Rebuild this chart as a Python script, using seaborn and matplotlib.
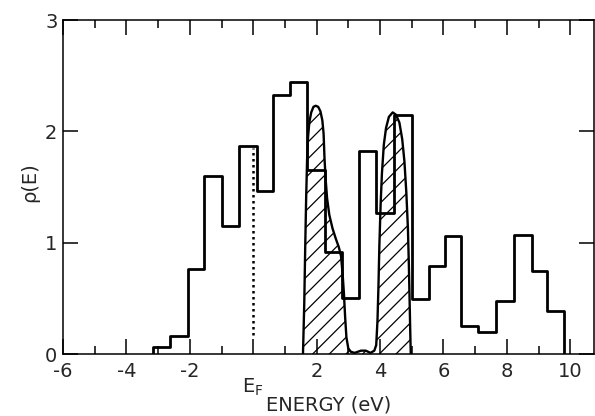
import matplotlib
matplotlib.use("Agg")
import matplotlib.pyplot as plt
import seaborn as sns

# ---- data ----
bin_edges = [-3.15, -2.61, -2.07, -1.54, -0.98, -0.45, 0.12, 0.64, 1.16, 1.69,
             2.26, 2.79, 3.35, 3.87, 4.45, 5.00, 5.53, 6.06, 6.56, 7.09,
             7.67, 8.22, 8.78, 9.28, 9.81]
dos_heights = [0.06, 0.16, 0.76, 1.60, 1.15, 1.87, 1.46, 2.33, 2.44, 1.65,
               0.92, 0.50, 1.82, 1.27, 2.15, 0.49, 0.79, 1.06, 0.25, 0.20,
               0.48, 1.07, 0.75, 0.39]

peak_energy = [1.57, 1.61, 1.64, 1.67, 1.70, 1.73, 1.77, 1.83, 1.90, 1.97,
               2.05, 2.12, 2.18, 2.22, 2.25, 2.29, 2.33, 2.40, 2.50, 2.60,
               2.70, 2.77, 2.82, 2.86, 2.90, 2.94, 3.00, 3.08, 3.20, 3.40,
               3.55, 3.70, 3.82, 3.88, 3.92, 3.95, 3.98, 4.02, 4.06, 4.12,
               4.19, 4.28, 4.40, 4.50, 4.61, 4.70, 4.77, 4.83, 4.88, 4.91,
               4.93, 4.95, 4.97]
peak_rho = [0.00, 0.45, 0.95, 1.40, 1.75, 1.95, 2.08, 2.17, 2.22, 2.23,
            2.22, 2.18, 2.10, 1.98, 1.75, 1.55, 1.40, 1.25, 1.13, 1.04,
            0.96, 0.88, 0.72, 0.55, 0.33, 0.15, 0.05, 0.02, 0.01, 0.03,
            0.03, 0.01, 0.03, 0.08, 0.30, 0.60, 0.98, 1.35, 1.62, 1.88,
            2.03, 2.13, 2.17, 2.15, 2.08, 1.93, 1.73, 1.45, 1.13, 0.80,
            0.53, 0.25, 0.00]

fermi_energy = 0.0
fermi_rho = [0.17, 1.85]

x_major_ticks = [-6, -4, -2, 0, 2, 4, 6, 8, 10]
x_tick_labels = ["-6", "-4", "-2", "", "2", "4", "6", "8", "10"]
x_minor_ticks = [-5, -3, -1, 1, 3, 5, 7, 9]
y_ticks = [0, 1, 2, 3]
y_tick_labels = ["0", "1", "2", "3"]

# ---- figure ----
sns.set_style("ticks")
plt.rcParams["font.family"] = ["DejaVu Sans"]
plt.rcParams["hatch.linewidth"] = 0.9

fig = plt.figure(figsize=(5.95, 4.16), dpi=100)
ax = fig.add_axes([63 / 595, 1 - 354 / 416, (594 - 63) / 595, (354 - 20) / 416])

# histogram outline (steps)
steps_x = [bin_edges[0]] + bin_edges
steps_y = [0.0] + dos_heights + [0.0]
sns.lineplot(x=steps_x, y=steps_y, sort=False, estimator=None,
             drawstyle="steps-post", color="black", linewidth=2.0, ax=ax)

# hatched peaks
ax.fill_between(peak_energy, 0, peak_rho, facecolor="none",
                edgecolor="black", hatch="//", linewidth=0)
sns.lineplot(x=peak_energy, y=peak_rho, sort=False, estimator=None,
             color="black", linewidth=1.7, ax=ax)

# Fermi level dotted line
ax.plot([fermi_energy, fermi_energy], fermi_rho, color="black",
        linewidth=1.8, linestyle=(0, (1, 1.4)))

ax.set_xlim(-6, 10.75)
ax.set_ylim(0, 3)
ax.set_xticks(x_major_ticks)
ax.set_xticklabels(x_tick_labels)
ax.set_xticks(x_minor_ticks, minor=True)
ax.set_yticks(y_ticks)
ax.set_yticklabels(y_tick_labels)

ax.tick_params(which="both", direction="in", top=True, right=True,
               width=1.1, labelsize=14, color="black")
ax.tick_params(which="major", length=11)
ax.tick_params(which="minor", length=6)
ax.tick_params(axis="x", pad=6)
ax.tick_params(axis="y", pad=4)
for s in ax.spines.values():
    s.set_linewidth(1.1)
    s.set_color("black")

ax.annotate(r"E$_\mathregular{F}$", xy=(fermi_energy, 0), xycoords="data",
            xytext=(0, -16), textcoords="offset points",
            ha="center", va="top", fontsize=14)

ax.set_xlabel("ENERGY (eV)", fontsize=14)
ax.xaxis.set_label_coords(0.5, -0.125)
ax.set_ylabel("ρ(E)", fontsize=14)
ax.yaxis.set_label_coords(-0.045, 0.515)

fig.savefig("out.png", dpi=100)
